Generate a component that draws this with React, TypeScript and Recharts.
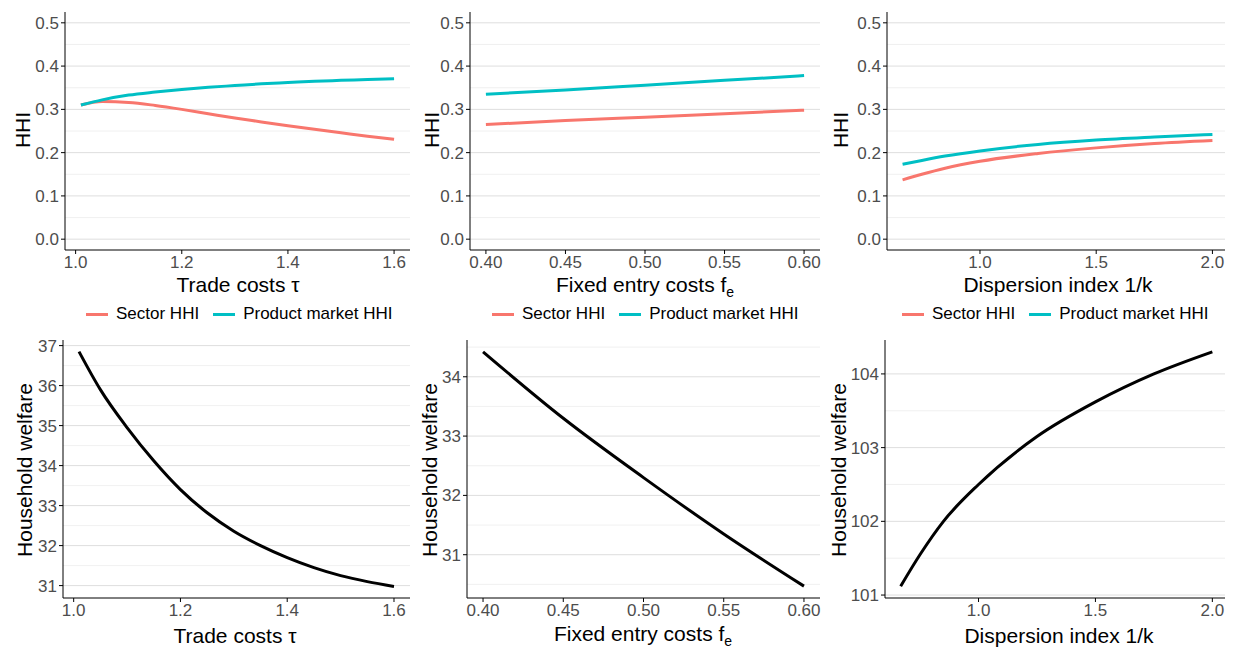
import React from "react";
import { LineChart, Line, XAxis, YAxis, ReferenceLine } from "recharts";

const tauX = [1.01, 1.05, 1.1, 1.15, 1.2, 1.25, 1.3, 1.35, 1.4, 1.45, 1.5, 1.55, 1.6];
const tauSector = [0.31, 0.318, 0.316, 0.309, 0.300, 0.290, 0.280, 0.271, 0.262, 0.254, 0.246, 0.238, 0.231];
const tauProduct = [0.31, 0.322, 0.333, 0.340, 0.346, 0.351, 0.355, 0.359, 0.362, 0.365, 0.367, 0.369, 0.371];
const tauWelfare = [36.85, 35.9, 34.95, 34.12, 33.4, 32.82, 32.36, 32.0, 31.7, 31.45, 31.25, 31.1, 30.98];

const feX = [0.4, 0.45, 0.5, 0.55, 0.6];
const feSector = [0.265, 0.274, 0.282, 0.290, 0.298];
const feProduct = [0.335, 0.345, 0.356, 0.367, 0.378];
const feWelfare = [34.42, 33.3, 32.3, 31.35, 30.47];

const kX = [0.667, 0.75, 0.85, 1.0, 1.25, 1.5, 1.75, 2.0];
const kSector = [0.137, 0.150, 0.164, 0.180, 0.198, 0.211, 0.221, 0.228];
const kProduct = [0.173, 0.182, 0.192, 0.204, 0.219, 0.229, 0.236, 0.242];
const kWelfare = [101.12, 101.55, 102.0, 102.5, 103.15, 103.62, 104.0, 104.3];

const hhiTicks = [0, 0.1, 0.2, 0.3, 0.4, 0.5];
const hhiMinor = [0.05, 0.15, 0.25, 0.35, 0.45];

const FONT = "'Liberation Sans', Arial, sans-serif";
const RED = "#F8766D";
const CYAN = "#00BFC4";

const build = (x: number[], ...cols: [string, number[]][]) =>
  x.map((v, i) => {
    const o: any = { x: v };
    cols.forEach(([k, arr]) => (o[k] = arr[i]));
    return o;
  });

type PanelProps = {
  left: number; top: number; width: number; height: number; yw: number;
  data: any[]; xDomain: [number, number]; xTicks: number[]; xFmt: (v: number) => string;
  yDomain: [number, number]; yTicks: number[]; yMinor: number[]; yFmt: (v: number) => string;
  series: { key: string; color: string }[];
};

const Panel = (p: PanelProps) => (
  <div style={{ position: "absolute", left: p.left, top: p.top }}>
    <LineChart width={p.width} height={p.height} data={p.data} margin={{ top: 4, right: 10, bottom: 0, left: 0 }}>
      {p.yTicks.map((t) => (
        <ReferenceLine key={"M" + t} y={t} stroke="#dedede" strokeWidth={1} />
      ))}
      {p.yMinor.map((t) => (
        <ReferenceLine key={"m" + t} y={t} stroke="#ececec" strokeWidth={0.8} />
      ))}
      <XAxis dataKey="x" type="number" domain={p.xDomain} ticks={p.xTicks} tickFormatter={p.xFmt}
        allowDataOverflow height={48} stroke="#000" tickSize={4}
        tick={{ fill: "#4d4d4d", fontSize: 17, fontFamily: FONT }} />
      <YAxis type="number" domain={p.yDomain} ticks={p.yTicks} tickFormatter={p.yFmt}
        allowDataOverflow width={p.yw} stroke="#000" tickSize={4}
        tick={{ fill: "#4d4d4d", fontSize: 17, fontFamily: FONT }} />
      {p.series.map((s) => (
        <Line key={s.key} dataKey={s.key} stroke={s.color} strokeWidth={3} dot={false} type="monotone" isAnimationActive={false} />
      ))}
    </LineChart>
  </div>
);

const Title = ({ x, y, children, rot }: { x: number; y: number; children: React.ReactNode; rot?: boolean }) => (
  <div style={{
    position: "absolute", left: x, top: y, fontFamily: FONT, fontSize: 21, color: "#000", whiteSpace: "nowrap", lineHeight: 1,
    transform: rot ? "translate(-50%,-50%) rotate(-90deg)" : "translate(-50%,-50%)",
  }}>{children}</div>
);

const Sub = ({ t }: { t: string }) => (
  <span style={{ fontSize: 14, position: "relative", top: 5, lineHeight: 0 }}>{t}</span>
);

const Legend = ({ x }: { x: number }) => (
  <div style={{ position: "absolute", left: x, top: 304, fontFamily: FONT, fontSize: 17, color: "#000", display: "flex", alignItems: "center", whiteSpace: "nowrap" }}>
    <span style={{ display: "inline-block", width: 22, height: 3, background: RED, marginRight: 8 }} />
    <span style={{ marginRight: 14 }}>Sector HHI</span>
    <span style={{ display: "inline-block", width: 22, height: 3, background: CYAN, marginRight: 8 }} />
    <span>Product market HHI</span>
  </div>
);

const f1 = (v: number) => v.toFixed(1);
const f2 = (v: number) => v.toFixed(2);
const f0 = (v: number) => String(v);
const hhiSeries = [{ key: "s", color: RED }, { key: "p", color: CYAN }];
const wSeries = [{ key: "w", color: "#000" }];

export default function App() {
  const d1 = build(tauX, ["s", tauSector], ["p", tauProduct], ["w", tauWelfare]);
  const d2 = build(feX, ["s", feSector], ["p", feProduct], ["w", feWelfare]);
  const d3 = build(kX, ["s", kSector], ["p", kProduct], ["w", kWelfare]);
  return (
    <div style={{ position: "relative", width: 1233, height: 650, background: "#fff", margin: "-8px -8px 0 -8px" }}>
      <Panel left={30} top={8} width={390} height={290} yw={35} data={d1} xDomain={[0.98, 1.63]} xTicks={[1.0, 1.2, 1.4, 1.6]} xFmt={f1}
        yDomain={[-0.025, 0.525]} yTicks={hhiTicks} yMinor={hhiMinor} yFmt={f1} series={hhiSeries} />
      <Panel left={435} top={8} width={395} height={290} yw={35} data={d2} xDomain={[0.39, 0.61]} xTicks={[0.4, 0.45, 0.5, 0.55, 0.6]} xFmt={f2}
        yDomain={[-0.025, 0.525]} yTicks={hhiTicks} yMinor={hhiMinor} yFmt={f1} series={hhiSeries} />
      <Panel left={852} top={8} width={386} height={290} yw={35} data={d3} xDomain={[0.6, 2.067]} xTicks={[1.0, 1.5, 2.0]} xFmt={f1}
        yDomain={[-0.025, 0.525]} yTicks={hhiTicks} yMinor={hhiMinor} yFmt={f1} series={hhiSeries} />
      <Title x={22} y={130} rot>HHI</Title>
      <Title x={431} y={130} rot>HHI</Title>
      <Title x={840} y={130} rot>HHI</Title>
      <Title x={238} y={284}>Trade costs τ</Title>
      <Title x={645} y={284}>Fixed entry costs f<Sub t="e" /></Title>
      <Title x={1058} y={284}>Dispersion index 1/k</Title>
      <Legend x={86} />
      <Legend x={492} />
      <Legend x={902} />
      <Panel left={33} top={336} width={387} height={310} yw={30} data={d1} xDomain={[0.98, 1.63]} xTicks={[1.0, 1.2, 1.4, 1.6]} xFmt={f1}
        yDomain={[30.69, 37.14]} yTicks={[31, 32, 33, 34, 35, 36, 37]} yMinor={[31.5, 32.5, 33.5, 34.5, 35.5, 36.5]} yFmt={f0} series={wSeries} />
      <Panel left={437} top={336} width={393} height={310} yw={30} data={d2} xDomain={[0.39, 0.61]} xTicks={[0.4, 0.45, 0.5, 0.55, 0.6]} xFmt={f2}
        yDomain={[30.27, 34.62]} yTicks={[31, 32, 33, 34]} yMinor={[30.5, 31.5, 32.5, 33.5, 34.5]} yFmt={f0} series={wSeries} />
      <Panel left={845} top={336} width={393} height={310} yw={40} data={d3} xDomain={[0.6, 2.067]} xTicks={[1.0, 1.5, 2.0]} xFmt={f1}
        yDomain={[100.96, 104.46]} yTicks={[101, 102, 103, 104]} yMinor={[101.5, 102.5, 103.5]} yFmt={f0} series={wSeries} />
      <Title x={24} y={470} rot>Household welfare</Title>
      <Title x={429} y={470} rot>Household welfare</Title>
      <Title x={838} y={470} rot>Household welfare</Title>
      <Title x={235} y={635}>Trade costs τ</Title>
      <Title x={643} y={633}>Fixed entry costs f<Sub t="e" /></Title>
      <Title x={1059} y={635}>Dispersion index 1/k</Title>
    </div>
  );
}
